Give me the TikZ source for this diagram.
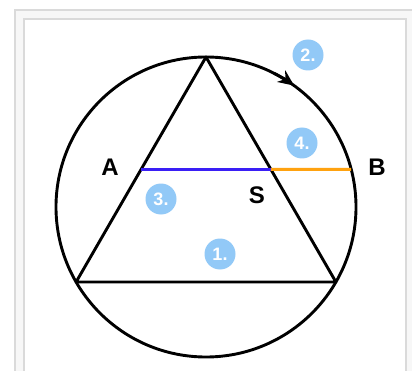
\documentclass[tikz,border=0pt]{standalone}
\usepackage{fontspec}
\usepackage{tikz}
\usetikzlibrary{arrows.meta, calc}
\newfontfamily\figfont{Liberation Sans}
\definecolor{framegray}{HTML}{DADADA}
\definecolor{framebg}{HTML}{F7F7F7}
\definecolor{badgeblue}{HTML}{92C9F7}
\definecolor{chordblue}{HTML}{3A1FF5}
\definecolor{chordorange}{HTML}{FFA20F}

\tikzset{
  figline/.style={line width=2.9pt, line join=round},
  ptlabel/.style={font=\figfont\fontsize{24}{24}\selectfont\bfseries, text=black, inner sep=0pt},
  badge/.style={circle, fill=badgeblue, minimum size=31pt, inner sep=0pt,
    font=\figfont\fontsize{18}{18}\selectfont\bfseries, text=white}
}

\begin{document}
\begin{tikzpicture}[x=1pt, y=1pt]

  \useasboundingbox (0,0) rectangle (412,370);

  %% Frame
  \filldraw[fill=framebg, draw=framegray, line width=1.2pt] (15,360) rectangle (414,-3);
  \filldraw[fill=white, draw=framegray, line width=1.2pt] (24,351) rectangle (406,-3);

  %% Points
  \coordinate (O) at (206,163);
  \coordinate (T) at ($(O)+(90:150)$);
  \coordinate (L) at ($(O)+(210:150)$);
  \coordinate (R) at ($(O)+(330:150)$);
  \coordinate (A) at ($(T)!0.5!(L)$);
  \coordinate (S) at ($(T)!0.5!(R)$);
  \coordinate (B) at ($(O)+(14.5:150)$);
  \coordinate (arcstart) at ($(O)+(63:150)$);

  %% Circle and triangle
  \draw[figline] (O) circle (150);
  \draw[figline] (T) -- (L) -- (R) -- cycle;
  \draw[figline, -{Stealth[length=16pt, width=14pt, inset=5pt]}] (arcstart) arc[start angle=63, end angle=54, radius=150];

  %% Chords
  \draw[line width=3pt, chordblue] (A) -- (S);
  \draw[line width=3pt, chordorange] (S) -- (B);

  %% Labels
  \node[ptlabel] (labA) at (110,203) {A};
  \node[ptlabel] (labB) at (377,203) {B};
  \node[ptlabel] (labS) at (257,175) {S};

  %% Badges
  \node[badge] (b1) at (220,116) {1.};
  \node[badge] (b2) at (308,315) {2.};
  \node[badge] (b3) at (161,171) {3.};
  \node[badge] (b4) at (302,227) {4.};

\end{tikzpicture}
\end{document}
